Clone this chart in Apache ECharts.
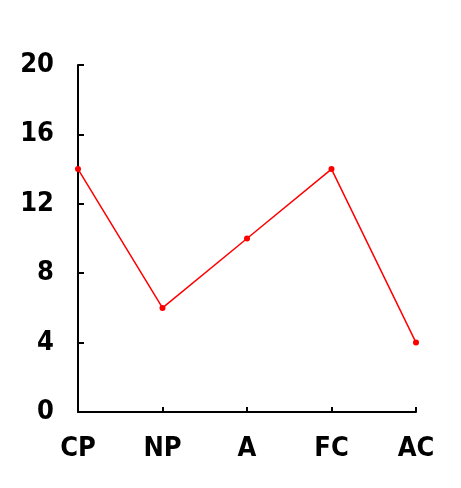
<!doctype html>
<html>
<head>
<meta charset="UTF-8"/>
<title>chart</title>
<script src="https://cdn.jsdelivr.net/npm/echarts@6/dist/echarts.min.js"></script>
<style>
html,body{margin:0;padding:0;background:#fff;}
#chart{width:461px;height:488px;}
</style>
</head>
<body>
<div id="chart"></div>
<script>
var categories = ['CP', 'NP', 'A', 'FC', 'AC'];
var values = [14, 6, 10, 14, 4];

var myChart = echarts.init(document.getElementById('chart'));

var labelFont = {
    color: '#000',
    fontFamily: '"DejaVu Sans Condensed", Arial, sans-serif',
    fontWeight: 'bold',
    fontSize: 27
};

var option = {
    animation: false,
    backgroundColor: '#fff',
    grid: {
        left: 78,
        right: 45,
        top: 65,
        bottom: 76
    },
    xAxis: {
        type: 'category',
        data: categories,
        boundaryGap: false,
        axisLine: { lineStyle: { color: '#000', width: 2 } },
        axisTick: { inside: true, length: 5, lineStyle: { color: '#000', width: 2 } },
        axisLabel: Object.assign({ margin: 23 }, labelFont),
        splitLine: { show: false }
    },
    yAxis: {
        type: 'value',
        min: 0,
        max: 20,
        interval: 4,
        axisLine: { show: true, lineStyle: { color: '#000', width: 2 } },
        axisTick: { show: true, inside: true, length: 6, lineStyle: { color: '#000', width: 2 } },
        axisLabel: Object.assign({ margin: 24 }, labelFont),
        splitLine: { show: false }
    },
    series: [
        {
            type: 'line',
            data: values,
            symbol: 'circle',
            symbolSize: 6,
            itemStyle: { color: '#ff0000' },
            lineStyle: { color: '#ff0000', width: 1.5 }
        }
    ]
};

myChart.setOption(option);
</script>
</body>
</html>
